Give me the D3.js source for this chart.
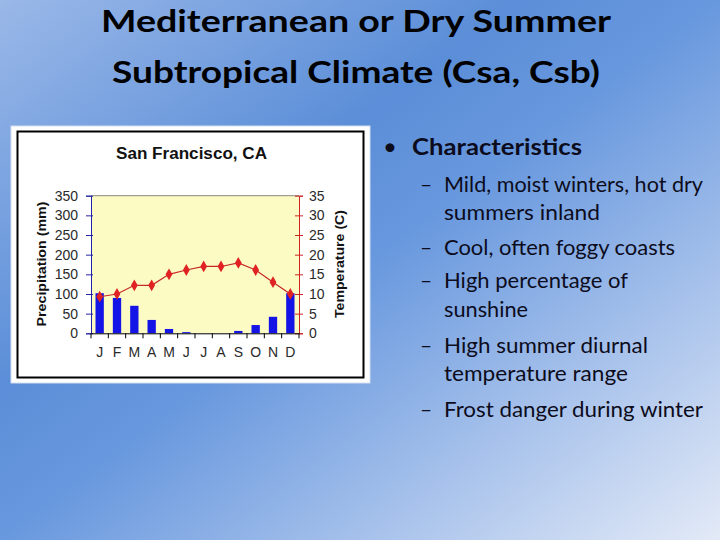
<!DOCTYPE html>
<html>
<head>
<meta charset="utf-8">
<script src="https://cdn.jsdelivr.net/npm/d3@7"></script>
<style>
  body { margin: 0; }
  svg { display: block; }
</style>
</head>
<body>
<svg id="slide" width="720" height="540"></svg>
<script>
// chart values
const months = ["J", "F", "M", "A", "M", "J", "J", "A", "S", "O", "N", "D"];
const precip_mm = [102, 90, 70, 34, 11, 3, 0, 0, 6, 21, 42, 102];
const temp_c = [9.3, 10, 12.2, 12.2, 15, 16.1, 17, 17, 17.9, 16.1, 13, 10];
const precip_ticks = [0, 50, 100, 150, 200, 250, 300, 350];
const temp_ticks = [0, 5, 10, 15, 20, 25, 30, 35];

const title_lines = ["Mediterranean or Dry Summer", "Subtropical Climate (Csa, Csb)"];
const heading = "Characteristics";
const sub_items = [
  ["Mild, moist winters, hot dry", "summers inland"],
  ["Cool, often foggy coasts"],
  ["High percentage of", "sunshine"],
  ["High summer diurnal", "temperature range"],
  ["Frost danger during winter"]
];

const svg = d3.select("#slide");

// background gradient
const defs = svg.append("defs");
const grad = defs.append("linearGradient")
  .attr("id", "bg")
  .attr("x1", 0).attr("y1", 0).attr("x2", 1).attr("y2", 1);
[[0, "#9ab8e8"], [0.36, "#5b8ed8"], [0.5, "#6898de"], [0.75, "#a6c1eb"], [1, "#e3eaf7"]]
  .forEach(s => grad.append("stop").attr("offset", s[0]).attr("stop-color", s[1]));
svg.append("rect").attr("width", 720).attr("height", 540).attr("fill", "url(#bg)");

// slide title
const title_font = "Lato, 'Open Sans', sans-serif";
const title_base = [32, 83];
const title_width = [510, 488];
svg.selectAll(".title")
  .data(title_lines)
  .enter()
  .append("text")
  .attr("class", "title")
  .attr("x", 356)
  .attr("y", (d, i) => title_base[i])
  .attr("text-anchor", "middle")
  .attr("font-family", title_font)
  .attr("font-weight", "bold")
  .attr("font-size", 31)
  .attr("textLength", (d, i) => title_width[i])
  .attr("lengthAdjust", "spacingAndGlyphs")
  .attr("fill", "#000")
  .text(d => d);

// bullets
const text_color = "#0c0c1c";
svg.append("text")
  .attr("x", 383).attr("y", 155)
  .attr("font-family", title_font).attr("font-size", 24)
  .attr("fill", text_color)
  .text("\u2022");
svg.append("text")
  .attr("x", 412).attr("y", 155)
  .attr("font-family", title_font).attr("font-weight", "bold").attr("font-size", 23)
  .attr("textLength", 170).attr("lengthAdjust", "spacingAndGlyphs")
  .attr("fill", text_color)
  .text(heading);

const sub_base = [[191.7, 220], [255], [288, 316.7], [353, 381], [416.7]];
const sub_width = [[259, 156], [231], [184, 84], [204, 184], [259]];
sub_items.forEach(function(item, i) {
  svg.append("text")
    .attr("x", 420).attr("y", sub_base[i][0])
    .attr("font-family", title_font).attr("font-size", 21)
    .attr("fill", text_color)
    .text("\u2013");
  item.forEach(function(line, j) {
    svg.append("text")
      .attr("x", 444).attr("y", sub_base[i][j])
      .attr("font-family", title_font).attr("font-size", 21)
      .attr("textLength", sub_width[i][j]).attr("lengthAdjust", "spacingAndGlyphs")
      .attr("fill", text_color)
      .text(line);
  });
});

// climate chart picture frame
svg.append("rect")
  .attr("x", 11).attr("y", 126).attr("width", 359).attr("height", 257)
  .attr("fill", "#fff").attr("stroke", "#d4def0").attr("stroke-width", 1);
svg.append("rect")
  .attr("x", 17.5).attr("y", 131.5).attr("width", 346).attr("height", 246)
  .attr("fill", "none").attr("stroke", "#000").attr("stroke-width", 2);

const chart_font = "'Liberation Sans', Arial, sans-serif";
const plot = {left: 91, right: 299, top: 195.7, bottom: 333.3};

svg.append("text")
  .attr("x", 191.5).attr("y", 159)
  .attr("text-anchor", "middle")
  .attr("font-family", chart_font).attr("font-weight", "bold").attr("font-size", 16)
  .attr("textLength", 151).attr("lengthAdjust", "spacingAndGlyphs")
  .attr("fill", "#111")
  .text("San Francisco, CA");

const x = d3.scaleBand()
  .domain(d3.range(months.length))
  .range([plot.left, plot.right])
  .padding(0);
const y_precip = d3.scaleLinear().domain([0, 350]).range([plot.bottom, plot.top]);
const y_temp = d3.scaleLinear().domain([0, 35]).range([plot.bottom, plot.top]);

// plot background
svg.append("rect")
  .attr("x", plot.left).attr("y", plot.top)
  .attr("width", plot.right - plot.left).attr("height", plot.bottom - plot.top)
  .attr("fill", "#fdfbc4");
svg.append("line")
  .attr("x1", plot.left).attr("x2", plot.right)
  .attr("y1", plot.top).attr("y2", plot.top)
  .attr("stroke", "#8a8a80").attr("stroke-width", 1);

// precipitation bars
const bw = x.bandwidth();
svg.append("g")
  .selectAll("rect")
  .data(precip_mm)
  .enter()
  .append("rect")
  .attr("x", (d, i) => x(i) + bw * 0.26)
  .attr("width", bw * 0.48)
  .attr("y", d => y_precip(d))
  .attr("height", d => plot.bottom - y_precip(d))
  .attr("fill", "#1414e6");

// temperature line
const line = d3.line()
  .x((d, i) => x(i) + bw / 2)
  .y(d => y_temp(d));
svg.append("path")
  .datum(temp_c)
  .attr("d", line)
  .attr("fill", "none")
  .attr("stroke", "#c42a2a")
  .attr("stroke-width", 1.2);
svg.append("g")
  .selectAll("path")
  .data(temp_c)
  .enter()
  .append("path")
  .attr("d", d3.symbol().type(d3.symbolDiamond).size(40))
  .attr("transform", (d, i) => "translate(" + (x(i) + bw / 2) + "," + y_temp(d) + ")")
  .attr("fill", "#e02222");

// left axis (precipitation)
const left_axis = svg.append("g")
  .attr("transform", "translate(" + plot.left + ",0)")
  .call(d3.axisLeft(y_precip).tickValues(precip_ticks).tickSize(5).tickPadding(8));
left_axis.select(".domain").attr("stroke", "#2424a8");
left_axis.selectAll(".tick line").attr("stroke", "#2424a8").attr("x2", -5).attr("x1", 2);
left_axis.selectAll(".tick text")
  .attr("font-family", chart_font).attr("font-size", 14).attr("fill", "#2a2a2a");

// right axis (temperature)
const right_axis = svg.append("g")
  .attr("transform", "translate(" + plot.right + ",0)")
  .call(d3.axisRight(y_temp).tickValues(temp_ticks).tickSize(4).tickPadding(6));
right_axis.select(".domain").attr("stroke", "#d02424");
right_axis.selectAll(".tick line").attr("stroke", "#d02424").attr("x1", -4);
right_axis.selectAll(".tick text")
  .attr("font-family", chart_font).attr("font-size", 14).attr("fill", "#2a2a2a");

// bottom axis: ticks on month boundaries, letters centred in months
const bottom_axis = svg.append("g")
  .attr("transform", "translate(0," + plot.bottom + ")")
  .call(d3.axisBottom(x).tickSize(0).tickPadding(14).tickFormat(i => months[i]));
bottom_axis.select(".domain").attr("stroke", "#000");
bottom_axis.selectAll(".tick text")
  .attr("font-family", chart_font).attr("font-size", 14).attr("fill", "#2a2a2a");
bottom_axis.selectAll(".edge")
  .data(d3.range(months.length + 1))
  .enter()
  .append("line")
  .attr("class", "edge")
  .attr("x1", i => i < months.length ? x(i) : plot.right)
  .attr("x2", i => i < months.length ? x(i) : plot.right)
  .attr("y1", 0).attr("y2", 5)
  .attr("stroke", "#000");

// axis titles
svg.append("text")
  .attr("transform", "translate(46,264) rotate(-90)")
  .attr("text-anchor", "middle")
  .attr("font-family", chart_font).attr("font-weight", "bold").attr("font-size", 13)
  .attr("textLength", 125).attr("lengthAdjust", "spacingAndGlyphs")
  .attr("fill", "#111")
  .text("Precipitation (mm)");
svg.append("text")
  .attr("transform", "translate(344,264) rotate(-90)")
  .attr("text-anchor", "middle")
  .attr("font-family", chart_font).attr("font-weight", "bold").attr("font-size", 13)
  .attr("textLength", 108).attr("lengthAdjust", "spacingAndGlyphs")
  .attr("fill", "#111")
  .text("Temperature (C)");
</script>
</body>
</html>
